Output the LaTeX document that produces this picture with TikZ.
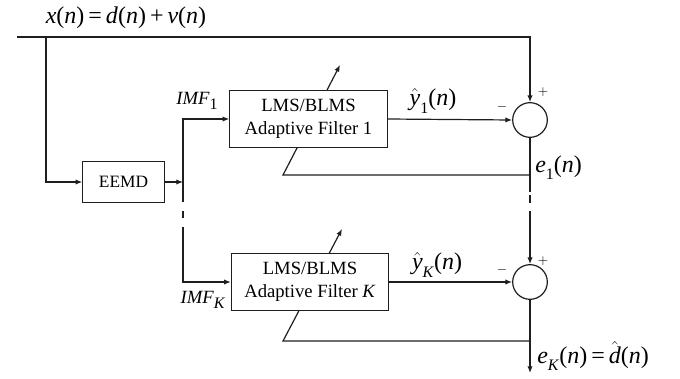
\documentclass[tikz,border=0pt]{standalone}
\usepackage{fontspec}
\setmainfont{Liberation Serif}
\usetikzlibrary{arrows.meta,positioning,calc,backgrounds}
\definecolor{lmsline}{RGB}{30,30,30}
\newcommand{\vi}[1]{\textit{#1}}
\newcommand{\sub}[1]{\raisebox{-0.3em}{\fontsize{12}{12}\selectfont #1}}
\newcommand{\hatv}[1]{$\hat{\mbox{\vi{#1}}}$}
\tikzset{
  filterbox/.style={
    draw=lmsline,
    fill=white,
    line width=0.9pt,
    align=center,
    minimum width=118pt,
    minimum height=43pt,
    inner sep=1pt,
    font=\fontsize{14}{17}\selectfont
  },
  emdbox/.style={
    draw=lmsline,
    fill=white,
    line width=0.9pt,
    minimum width=61pt,
    minimum height=31pt,
    font=\fontsize{13}{15}\selectfont
  },
  sumnode/.style={
    circle,
    draw=lmsline,
    fill=white,
    line width=0.9pt,
    minimum size=26pt,
    inner sep=0pt
  },
  sig/.style={inner sep=0pt,font=\fontsize{18}{21}\selectfont},
  imf/.style={inner sep=0pt,font=\fontsize{14}{16}\selectfont},
  sgn/.style={inner sep=0pt,font=\fontsize{10}{12}\selectfont},
  wire/.style={draw=lmsline,line width=0.9pt},
  arr/.style={wire,-{Latex[length=5pt,width=4pt]}},
  gapwire/.style={wire,dash pattern=on 6pt off 6pt}
}

\begin{document}
\begin{tikzpicture}[x=0.75pt,y=-0.75pt]
        \useasboundingbox (0,0) rectangle (680,378);

        % blocks
        \node[emdbox] (eemd) at (123.5,182) {EEMD};
        \node[filterbox] (filt1) at (308.5,119) {LMS/BLMS\\Adaptive Filter 1};
        \node[filterbox] (filtK) at (310,282) {LMS/BLMS\\Adaptive Filter \vi{K}};
        \node[sumnode] (sum1) at (530,120) {};
        \node[sumnode] (sumK) at (530,282) {};

        % wire corners
        \coordinate (xin) at (17,37);
        \coordinate (tap) at (46,37);
        \coordinate (top) at (530,37);
        \coordinate (split) at (183,182);
        \coordinate (splitA) at (183,202);
        \coordinate (dashA) at (183,211);
        \coordinate (dashB) at (183,218);
        \coordinate (splitB) at (183,227);
        \coordinate (e1) at (530,175);
        \coordinate (e1A) at (530,192);
        \coordinate (e1B) at (530,195);
        \coordinate (e1C) at (530,212);
        \coordinate (fb1) at (283,175);
        \coordinate (tip1) at (340,65);
        \coordinate (eK) at (530,341);
        \coordinate (out) at (530,373);
        \coordinate (fbK) at (283,341);
        \coordinate (tipK) at (342,229);

        \begin{scope}[on background layer]
        % input and decomposition
        \draw[arr] (xin) -- (top) -- (sum1.north);
        \draw[arr] (tap) |- (eemd.west);
        \draw[arr] (eemd.east) -- (split);
        \draw[arr] (split) |- (filt1.west);
        \draw[wire] (split) -- (splitA);
        \draw[wire] (dashA) -- (dashB);
        \draw[arr] (splitB) |- (filtK.west);

        % outputs and errors
        \draw[arr] (filt1.east) -- (sum1.west);
        \draw[arr] (filtK.east) -- (sumK.west);
        \draw[wire] (sum1.south) -- (e1A);
        \draw[gapwire] (e1B) -- (e1C);
        \draw[arr] (e1C) -- (sumK.north);
        \draw[arr] (e1) -- (fb1) -- (tip1);
        \draw[arr] (sumK.south) -- (out);
        \draw[arr] (eK) -- (fbK) -- (tipK);
        \end{scope}

        % labels
        \node[sig] (xlab) at (126,18) {\vi{x}(\vi{n})\,=\,\vi{d}(\vi{n})\,+\,\vi{v}(\vi{n})};
        \node[imf] (imf1) at (197,101) {\vi{IMF}\sub{1}};
        \node[imf] (imfK) at (203,300) {\vi{IMF}\sub{\vi{K}}};
        \node[sig] (y1lab) at (433,101) {\hatv{y}\sub{1}(\vi{n})};
        \node[sig] (yKlab) at (437,265) {\hatv{y}\sub{\vi{K}}(\vi{n})};
        \node[sgn] (m1) at (502,107) {$-$};
        \node[sgn] (p1) at (543,92) {$+$};
        \node[sgn] (mK) at (502,270) {$-$};
        \node[sgn] (pK) at (543,261) {$+$};
        \node[sig,anchor=west] (e1lab) at (535,168) {\vi{e}\sub{1}(\vi{n})};
        \node[sig,anchor=west] (eKlab) at (537,356) {\vi{e}\sub{\vi{K}}(\vi{n})\,=\,\hatv{d}(\vi{n})};
      \end{tikzpicture}
\end{document}
